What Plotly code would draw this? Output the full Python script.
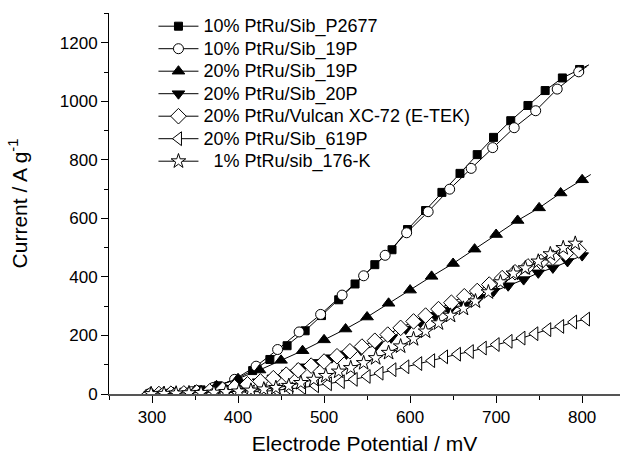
import plotly.graph_objects as go

# ---------------- data ----------------
names = [
    "10% PtRu/Sib_P2677",
    "10% PtRu/Sib_19P",
    "20% PtRu/Sib_19P",
    "20% PtRu/Sib_20P",
    "20% PtRu/Vulcan XC-72 (E-TEK)",
    "20% PtRu/Sib_619P",
    "  1% PtRu/sib_176-K",
]

x_p2677 = [297, 317, 337, 357, 377, 397, 417, 437, 457, 478, 497, 517, 536, 559,
           579, 597, 618, 637, 658, 678, 697, 717, 737, 757, 777, 797]
y_p2677 = [0, 2, 6, 14, 28, 50, 80, 118, 165, 216, 268, 322, 376, 442,
           493, 562, 627, 689, 754, 818, 877, 934, 986, 1037, 1080, 1109]
tail_p2677 = ([797, 808], [1109, 1125])

x_19p10 = [296, 321, 346, 371, 396, 421, 446, 471, 496, 521, 546, 571, 596, 621,
           646, 671, 696, 721, 746, 771, 796]
y_19p10 = [0, 2, 8, 22, 50, 95, 152, 212, 272, 338, 404, 474, 551, 623,
           700, 771, 842, 910, 968, 1042, 1101]
tail_19p10 = ([796, 806], [1101, 1120])

x_19p20 = [300, 325, 350, 375, 400, 425, 450, 475, 500, 525, 550, 575, 600, 625,
           650, 675, 700, 725, 750, 775, 800]
y_19p20 = [0, 4, 12, 28, 52, 82, 115, 148, 185, 222, 263, 310, 355, 402,
           446, 495, 545, 593, 636, 687, 732]
tail_19p20 = ([800, 810], [732, 750])

x_20p = [304, 321, 338, 355, 372, 390, 407, 424, 441, 458, 475, 492, 509, 526, 543,
         561, 578, 595, 612, 629, 646, 663, 680, 697, 714, 732, 749, 766, 783, 800]
y_20p = [0, 1, 3, 6, 12, 20, 30, 42, 55, 72, 93, 108, 124, 137, 150,
         167, 192, 222, 245, 268, 287, 305, 330, 351, 370, 391, 414, 431, 453, 473]

x_etek = [308, 322, 337, 352, 367, 382, 396, 411, 426, 441, 456, 470, 485, 500, 515,
          530, 544, 559, 574, 589, 604, 618, 633, 648, 663, 678, 692, 707, 722, 737,
          752, 766, 781, 796]
y_etek = [0, 1, 2, 5, 9, 15, 23, 33, 43, 54, 66, 81, 97, 111, 129,
          146, 162, 182, 203, 226, 248, 268, 290, 312, 334, 352, 374, 396, 416, 436,
          451, 466, 480, 491]

x_619p = [295, 310, 325, 340, 355, 370, 385, 400, 415, 430, 445, 460, 475, 490, 505,
          520, 535, 550, 565, 580, 595, 610, 625, 640, 655, 670, 685, 700, 715, 730,
          745, 760, 775, 790, 805]
y_619p = [0, 0, 1, 1, 2, 3, 4, 5, 7, 9, 13, 17, 22, 28, 35,
          42, 50, 60, 71, 83, 93, 104, 114, 127, 136, 145, 157, 169, 180, 191,
          206, 220, 231, 246, 256]

x_176k = [299, 314, 328, 343, 357, 372, 386, 401, 415, 430, 444, 459, 473, 488, 502,
          517, 531, 546, 560, 575, 589, 604, 618, 633, 647, 662, 676, 691, 705, 720,
          734, 749, 763, 778, 792]
y_176k = [0, 1, 2, 3, 4, 5, 7, 9, 12, 16, 21, 28, 38, 49, 62,
          77, 89, 106, 123, 141, 163, 188, 214, 242, 268, 292, 317, 348, 382, 412,
          430, 453, 478, 499, 514]

x_ticks = [300, 400, 500, 600, 700, 800]
y_ticks = [0, 200, 400, 600, 800, 1000, 1200]

# ---------------- styling ----------------
FONT = "Arial, 'Liberation Sans', sans-serif"
series = [
    (x_p2677, y_p2677, "square", "black", 8, tail_p2677),
    (x_19p10, y_19p10, "circle", "white", 10, tail_19p10),
    (x_19p20, y_19p20, "triangle-up", "black", 11, tail_19p20),
    (x_20p, y_20p, "triangle-down", "black", 11, None),
    (x_etek, y_etek, "diamond", "white", 12, None),
    (x_619p, y_619p, "triangle-left", "white", 12, None),
    (x_176k, y_176k, "star", "white", 11, None),
]

fig = go.Figure()
for name, (xs, ys, sym, fill, size, tail) in zip(names, series):
    fig.add_trace(go.Scatter(
        x=xs, y=ys, mode="lines+markers",
        name='<span style="font-size:18px">' + name + "</span>",
        line=dict(color="black", width=1),
        marker=dict(symbol=sym, color=fill, size=size,
                    line=dict(color="black", width=1)),
    ))
    if tail is not None:
        fig.add_trace(go.Scatter(
            x=tail[0], y=tail[1], mode="lines", showlegend=False,
            line=dict(color="black", width=1), hoverinfo="skip",
        ))

fig.update_layout(
    width=620, height=459,
    margin=dict(l=109, r=0, t=13, b=65),
    paper_bgcolor="white", plot_bgcolor="white",
    font=dict(family=FONT, size=17, color="black"),
    showlegend=True,
    legend=dict(
        x=0.087, y=1.008, xanchor="left", yanchor="top",
        bgcolor="rgba(0,0,0,0)", borderwidth=0,
        font=dict(family=FONT, size=15, color="black"),
        itemwidth=40, tracegroupgap=0,
    ),
)
fig.update_xaxes(
    range=[250, 844], tickvals=x_ticks, ticktext=[str(v) for v in x_ticks],
    automargin=False,
    showgrid=False, zeroline=False,
    showline=True, linecolor="#555555", linewidth=2,
    ticks="outside", ticklen=7, tickwidth=1, tickcolor="black",
    minor=dict(dtick=50, ticks="outside", ticklen=4, tickcolor="black", showgrid=False),
    tickfont=dict(family=FONT, size=17),
    title=dict(text="Electrode Potential / mV", font=dict(family=FONT, size=21), standoff=10),
)
fig.update_yaxes(
    range=[0, 1302], tickvals=y_ticks, ticktext=[str(v) for v in y_ticks],
    automargin=False,
    showgrid=False, zeroline=False,
    showline=True, linecolor="black", linewidth=1,
    ticks="outside", ticklen=7, tickwidth=1, tickcolor="black",
    minor=dict(dtick=100, ticks="outside", ticklen=4, tickcolor="black", showgrid=False),
    tickfont=dict(family=FONT, size=17),
    title=dict(text="Current / A g<sup>-1</sup>", font=dict(family=FONT, size=21), standoff=26),
)

fig.write_html(
    "out.html",
    config={"displayModeBar": False},
    post_script="document.body.style.margin='0';document.body.style.padding='0';",
)
